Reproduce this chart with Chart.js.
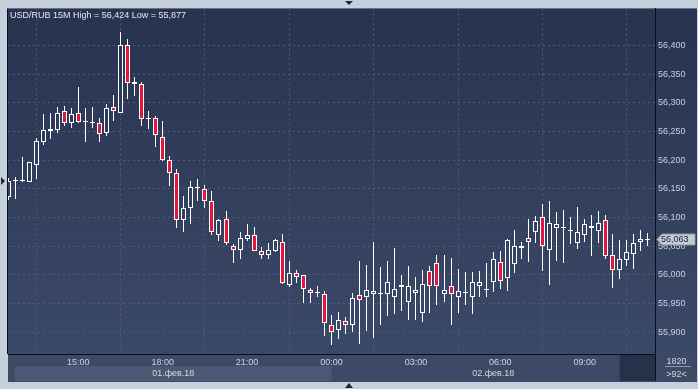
<!DOCTYPE html>
<html><head><meta charset="utf-8">
<script src="https://cdn.jsdelivr.net/npm/chart.js@4.4.1/dist/chart.umd.min.js"></script>
<style>
html,body{margin:0;padding:0;background:#c6d0dc;}
#wrap{position:relative;width:698px;height:389px;overflow:hidden;}
canvas{display:block;}
#title{position:absolute;left:10px;top:10px;font:9px "Liberation Sans",Arial,sans-serif;line-height:10px;color:#e4e9f1;white-space:pre;pointer-events:none;}
</style></head><body>
<div id="wrap"><canvas id="c" width="698" height="389"></canvas><div id="title"></div></div>
<script>
// ---- data (USD/RUB, 15 minute candles) ----
const symbol = 'USD/RUB';
const period = '15M';
const times = ["12:30","12:45","13:00","13:15","13:30","13:45","14:00","14:15","14:30","14:45",
"15:00","15:15","15:30","15:45","16:00","16:15","16:30","16:45","17:00","17:15",
"17:30","17:45","18:00","18:15","18:30","18:45","19:00","19:15","19:30","19:45",
"20:00","20:15","20:30","20:45","21:00","21:15","21:30","21:45","22:00","22:15",
"22:30","22:45","23:00","23:15","23:30","23:45","00:00","00:15","00:30","00:45",
"01:00","01:15","01:30","01:45","02:00","02:15","02:30","02:45","03:00","03:15",
"03:30","03:45","04:00","04:15","04:30","04:45","05:00","05:15","05:30","05:45",
"06:00","06:15","06:30","06:45","07:00","07:15","07:30","07:45","08:00","08:15",
"08:30","08:45","09:00","09:15","09:30","09:45","10:00","10:15","10:30","10:45",
"11:00","11:15","11:30"];
const days = ["01.фев.18", "02.фев.18"];
const open = [56.135,56.164,56.163,56.162,56.192,56.232,56.255,56.253,56.285,56.265,
56.283,56.266,56.265,56.265,56.247,56.292,56.282,56.401,56.336,56.332,
56.271,56.274,56.241,56.200,56.177,56.096,56.117,56.151,56.150,56.129,
56.070,56.098,56.050,56.044,56.063,56.070,56.042,56.034,56.042,56.057,
55.982,56.004,55.999,55.974,55.969,55.966,55.913,55.904,55.920,55.913,
55.964,55.961,55.967,55.966,55.967,55.962,55.978,55.952,55.969,55.934,
56.006,56.021,55.966,55.980,55.961,55.969,55.962,55.980,55.974,55.988,
56.023,55.995,56.019,56.051,56.065,56.075,56.100,56.044,56.082,56.081,
56.077,56.056,56.070,56.086,56.077,56.095,56.035,56.009,56.026,56.037,
56.058,56.060];
const high = [56.168,56.170,56.205,56.197,56.239,56.280,56.283,56.293,56.294,56.290,
56.327,56.290,56.293,56.274,56.297,56.313,56.424,56.412,56.345,56.336,
56.285,56.277,56.269,56.207,56.185,56.137,56.163,56.167,56.156,56.147,
56.097,56.111,56.053,56.074,56.089,56.083,56.049,56.055,56.062,56.071,
56.025,56.008,56.000,55.977,55.981,55.971,55.930,55.935,55.926,55.969,
56.024,56.017,56.057,56.013,56.025,56.046,55.999,56.015,55.996,56.009,
56.016,56.035,56.034,56.030,56.011,56.005,56.005,56.007,56.021,56.040,
56.041,56.063,56.078,56.057,56.097,56.103,56.124,56.129,56.109,56.113,
56.100,56.118,56.098,56.104,56.111,56.104,56.072,56.060,56.060,56.072,
56.079,56.073];
const low = [56.130,56.132,56.162,56.161,56.167,56.227,56.236,56.247,56.259,56.256,
56.264,56.231,56.256,56.231,56.242,56.269,56.282,56.306,56.312,56.259,
56.254,56.223,56.198,56.155,56.082,56.075,56.089,56.129,56.117,56.070,
56.059,56.052,56.020,56.027,56.059,56.042,56.027,56.027,56.040,55.984,
55.979,55.986,55.951,55.951,55.962,55.894,55.877,55.888,55.897,55.901,
55.880,55.902,55.890,55.913,55.928,55.932,55.937,55.921,55.921,55.918,
55.933,55.947,55.952,55.913,55.933,55.947,55.932,55.962,55.962,55.970,
55.975,55.972,56.003,56.028,56.023,56.055,56.007,55.982,56.024,56.021,
56.053,56.045,56.057,56.033,56.056,56.027,55.977,55.992,56.016,56.010,
56.042,56.051];
const close = [56.164,56.164,56.164,56.196,56.233,56.253,56.251,56.283,56.264,56.281,
56.266,56.266,56.265,56.246,56.290,56.285,56.400,56.335,56.332,56.271,
56.271,56.243,56.200,56.178,56.096,56.117,56.154,56.151,56.128,56.074,
56.096,56.055,56.044,56.065,56.070,56.042,56.034,56.043,56.060,55.986,
56.004,55.996,55.975,55.968,55.969,55.916,55.901,55.922,55.913,55.959,
55.957,55.973,55.971,55.966,55.987,55.975,55.983,55.981,55.973,55.984,
55.981,55.981,55.973,55.966,55.971,55.969,55.987,55.987,55.974,56.027,
55.989,56.060,56.051,56.046,56.057,56.093,56.051,56.091,56.089,56.084,
56.077,56.075,56.088,56.081,56.091,56.033,56.008,56.028,56.039,56.056,
56.062,56.063];
const barsTotal = 1820;
const yMin = 55.862, yMax = 56.4645, yStep = 0.05;

// ---- helpers ----
const FONT = '"Liberation Sans", Arial, sans-serif';
const RED = '#e3173e';
const fmt = v => v.toFixed(3).replace('.', ',');
document.getElementById('title').textContent =
  symbol + ' ' + period + ' High = ' + fmt(Math.max(...high)) + ' Low = ' + fmt(Math.min(...low));

const wickData = high.map((h, i) => [low[i], h]);
const bodyData = open.map((o, i) => [o, close[i]]);

// snap bars to whole pixels for crisp candles
const snap = {
  id: 'snap',
  afterDatasetsUpdate(chart) {
    chart.data.datasets.forEach((d, di) => {
      chart.getDatasetMeta(di).data.forEach(el => {
        el.x = Math.round(el.x - 0.5) + 0.5;
        let y = Math.round(el.y), b = Math.round(el.base);
        if (y === b) b = y + 1;
        el.y = y; el.base = b;
      });
    });
  }
};

const decor = {
  id: 'decor',
  afterLayout(chart) {
    const a = chart.chartArea;
    const g = chart.ctx.createLinearGradient(0, a.top, 0, a.bottom);
    g.addColorStop(0, '#283350');
    g.addColorStop(1, '#3b4968');
    chart.$grad = g;
  },
  beforeDraw(chart) {
    const {ctx, chartArea: a, scales: {x}} = chart;
    const W = chart.width - 1;
    ctx.save();
    ctx.fillStyle = chart.$grad;
    ctx.fillRect(a.left, a.top, W - a.left, a.bottom - a.top);
    ctx.fillStyle = '#3d4a66';
    ctx.fillRect(a.left, a.bottom, W - a.left, 28);
    const mid = x.getPixelForValue(times.indexOf('00:00'));
    ctx.fillStyle = '#4a5874';
    ctx.fillRect(a.left + 7, a.bottom + 12, mid - a.left - 7, 15);
    const fx = x.getPixelForValue(87);
    ctx.fillStyle = '#27314b';
    ctx.fillRect(fx, a.bottom + 1, a.right - fx, 26);
    ctx.restore();
  },
  afterDraw(chart) {
    const {ctx, chartArea: a, scales: {x, y}} = chart;
    ctx.save();
    // axis line extension and left edge
    ctx.strokeStyle = '#0b0f18';
    ctx.lineWidth = 1;
    ctx.beginPath();
    ctx.moveTo(a.right + 0.5, a.bottom); ctx.lineTo(a.right + 0.5, a.bottom + 27);
    ctx.moveTo(a.left - 0.5, a.top); ctx.lineTo(a.left - 0.5, a.bottom);
    ctx.stroke();
    // day labels
    const mid = x.getPixelForValue(times.indexOf('00:00'));
    ctx.font = '9px ' + FONT;
    ctx.fillStyle = '#d0d7e3';
    ctx.textAlign = 'center';
    ctx.textBaseline = 'middle';
    ctx.fillText(days[0], (a.left + 7 + mid) / 2, a.bottom + 20);
    ctx.fillText(days[1], (mid + a.right) / 2, a.bottom + 20);
    // corner box
    const cx = (a.right + chart.width) / 2;
    ctx.fillText(String(barsTotal), cx, a.bottom + 8);
    ctx.fillText('>' + open.length + '<', cx, a.bottom + 21);
    ctx.strokeStyle = '#8d98ad';
    ctx.beginPath();
    ctx.moveTo(a.right + 10, a.bottom + 12.5); ctx.lineTo(chart.width - 7, a.bottom + 12.5);
    ctx.stroke();
    // last price tag
    const last = close[close.length - 1];
    const yy = Math.round(y.getPixelForValue(last)) + 0.5;
    const tx = a.right + 2;
    ctx.beginPath();
    ctx.moveTo(tx, yy); ctx.lineTo(tx + 5, yy - 5.5); ctx.lineTo(chart.width - 3, yy - 5.5);
    ctx.lineTo(chart.width - 3, yy + 5.5); ctx.lineTo(tx + 5, yy + 5.5); ctx.closePath();
    ctx.fillStyle = '#c4cbd6'; ctx.fill();
    ctx.strokeStyle = '#8c96a8'; ctx.stroke();
    ctx.fillStyle = '#1b2235';
    ctx.textAlign = 'left';
    ctx.fillText(fmt(last), tx + 4, yy + 0.5);
    // small markers
    ctx.fillStyle = '#1d2538';
    const y0 = Math.round(y.getPixelForValue(close[0]));
    ctx.beginPath(); ctx.moveTo(1, y0 - 4); ctx.lineTo(5, y0); ctx.lineTo(1, y0 + 4); ctx.closePath(); ctx.fill();
    const c = Math.round(chart.width / 2);
    ctx.beginPath(); ctx.moveTo(c - 4, 1); ctx.lineTo(c + 4, 1); ctx.lineTo(c, 5); ctx.closePath(); ctx.fill();
    ctx.beginPath(); ctx.moveTo(c - 4, chart.height - 1); ctx.lineTo(c + 4, chart.height - 1); ctx.lineTo(c, chart.height - 6); ctx.closePath(); ctx.fill();
    ctx.restore();
  }
};

new Chart(document.getElementById('c'), {
  type: 'bar',
  data: {
    labels: times,
    datasets: [
      { label: 'body', data: bodyData, order: 0, grouped: false, barThickness: 5, minBarLength: 1,
        borderWidth: 1, borderColor: '#ffffff', borderSkipped: false, inflateAmount: 0, clip: 0,
        backgroundColor: c => (close[c.dataIndex] < open[c.dataIndex] ? RED : (c.chart.$grad || '#303c58')) },
      { label: 'wick', data: wickData, order: 1, grouped: false, barThickness: 1, minBarLength: 1,
        borderWidth: 0, backgroundColor: '#ffffff', inflateAmount: 0, clip: 0 }
    ]
  },
  options: {
    responsive: false, animation: false, events: [],
    layout: { padding: { left: 8, top: 8, right: 1, bottom: 7 } },
    plugins: { legend: { display: false }, tooltip: { enabled: false } },
    scales: {
      x: {
        type: 'category', offset: false,
        afterFit: s => { s.height = 28; },
        afterBuildTicks: s => {
          s.ticks = s.ticks.filter(t => { const l = times[t.value]; return l && l.endsWith(':00') && parseInt(l, 10) % 3 === 0; });
        },
        ticks: { autoSkip: false, maxRotation: 0, minRotation: 0, padding: 3, color: '#cdd4e0', font: { family: FONT, size: 9 } },
        grid: { color: '#4e5c79', drawTicks: false, lineWidth: 1 },
        border: { display: true, color: '#0b0f18', width: 1, dash: [2, 3] }
      },
      y: {
        position: 'right', min: yMin, max: yMax,
        afterFit: s => { s.width = 42; },
        afterBuildTicks: s => { s.ticks = s.ticks.filter(t => t.value > 55.89 && t.value < 56.41); },
        ticks: { stepSize: yStep, includeBounds: false, padding: 3, color: '#c9d1de', font: { family: FONT, size: 9 },
          callback: v => fmt(v) },
        grid: { color: '#4e5c79', drawTicks: false, lineWidth: 1 },
        border: { display: true, color: '#0b0f18', width: 1, dash: [2, 3] }
      }
    }
  },
  plugins: [snap, decor]
});
</script>
</body></html>
